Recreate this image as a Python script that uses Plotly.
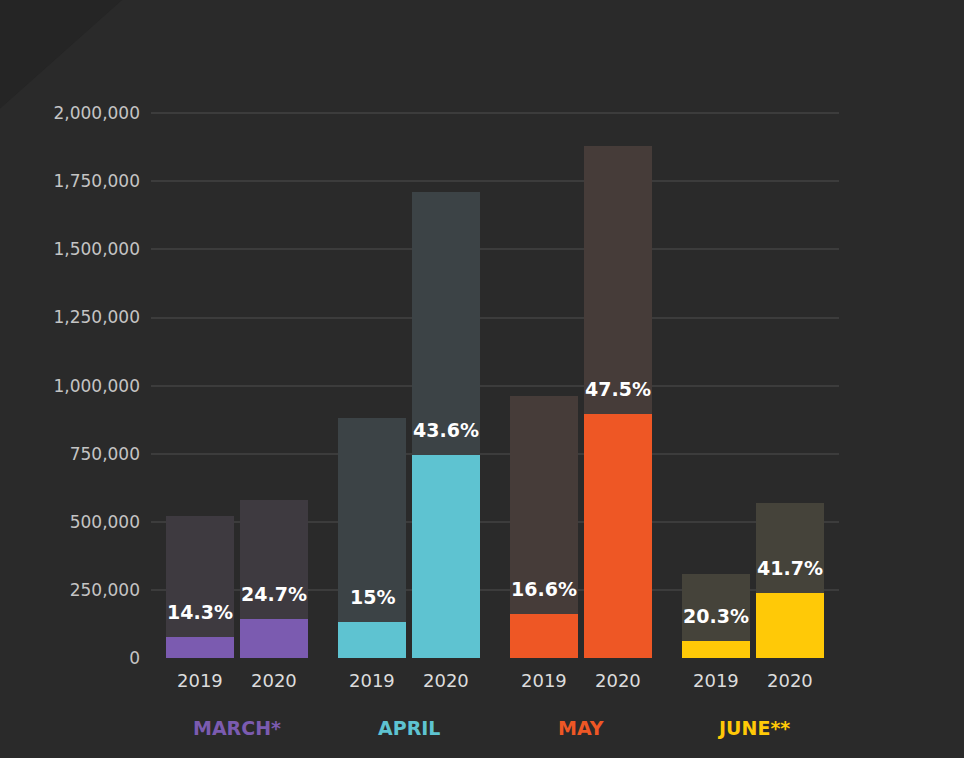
import plotly.graph_objects as go

# Data
months = ["MARCH*", "APRIL", "MAY", "JUNE**"]
total_2019 = [522000, 881000, 961000, 308000]
total_2020 = [580000, 1710000, 1879000, 569000]
part_2019 = [76000, 133000, 161000, 64000]
part_2020 = [145000, 746000, 894000, 238000]
pct_2019 = ["14.3%", "15%", "16.6%", "20.3%"]
pct_2020 = ["24.7%", "43.6%", "47.5%", "41.7%"]
years = ["2019", "2020"]

bright = ["#7b5bb0", "#5ec3d1", "#ee5725", "#ffc907"]
dim = ["#3e3a40", "#3c4346", "#463c39", "#45433a"]

BG = "#2a2a2a"
FONT = "DejaVu Sans"
W = 0.39

fig = go.Figure()

series = [
    (total_2019, part_2019, pct_2019, -0.41),
    (total_2020, part_2020, pct_2020, 0.02),
]
for totals, parts, labels, off in series:
    fig.add_trace(go.Bar(
        x=months, y=totals, offset=off, width=W,
        marker=dict(color=dim, line_width=0),
        hoverinfo="skip", showlegend=False,
    ))
    fig.add_trace(go.Bar(
        x=months, y=parts, offset=off, width=W,
        marker=dict(color=bright, line_width=0),
        showlegend=False,
    ))

# percent labels above the coloured part, year labels below, month names
for i, m in enumerate(months):
    for j, (totals, parts, labels, off) in enumerate(series):
        xc = i + off + W / 2
        fig.add_annotation(
            x=xc, y=parts[i], yref="y", yanchor="bottom", yshift=12,
            text="<b>%s</b>" % labels[i], showarrow=False,
            font=dict(family=FONT, size=19, color="#ffffff"),
        )
        fig.add_annotation(
            x=xc, y=0, yref="y", yanchor="top", yshift=-10,
            text=years[j], showarrow=False,
            font=dict(family=FONT, size=18, color="#dcdcdc"),
        )
    fig.add_annotation(
        x=i, y=0, yref="y", yanchor="top", yshift=-57,
        text="<b>%s</b>" % m, showarrow=False,
        font=dict(family=FONT, size=19, color=bright[i]),
    )

# darker diagonal corner in the top left
fig.add_shape(
    type="path", xref="paper", yref="paper",
    path="M -0.2195 1.1503 L -0.042 1.1503 L -0.2195 0.96 Z",
    fillcolor="#252525", line_width=0, layer="below",
)

fig.update_layout(
    width=964, height=758,
    paper_bgcolor=BG, plot_bgcolor=BG,
    barmode="overlay", bargap=0,
    margin=dict(l=151, r=125, t=86, b=100),
    font=dict(family=FONT, color="#c8c8c8"),
    xaxis=dict(
        range=[-0.5, 3.5], showticklabels=False, showgrid=False,
        zeroline=False, fixedrange=True,
    ),
    yaxis=dict(
        range=[0, 2100000], tickvals=[0, 250000, 500000, 750000, 1000000,
                                      1250000, 1500000, 1750000, 2000000],
        tickformat=",d", showgrid=True, gridcolor="#3c3c3c", gridwidth=1.5,
        zeroline=False, ticks="", ticklabelstandoff=10,
        tickfont=dict(family=FONT, size=17, color="#c4c4c4"),
    ),
)

fig.write_html("out.html", config={"displayModeBar": False},
               post_script="document.body.style.margin='0';")
